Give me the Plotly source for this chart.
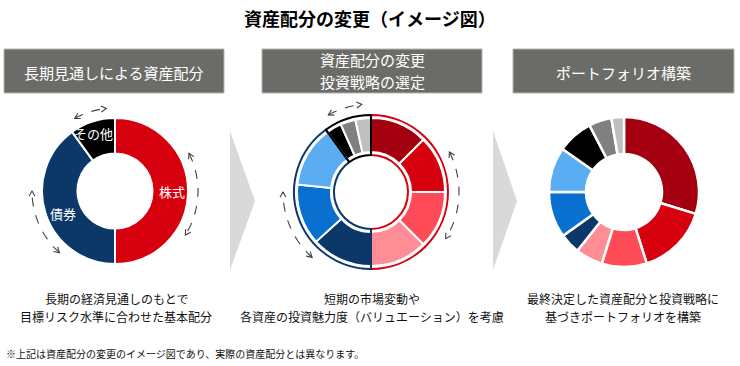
import math
import plotly.graph_objects as go

W, H = 740, 366
FONT = "Noto Sans CJK JP"

# ---------------- data ----------------
title_text = "資産配分の変更（イメージ図）"
header_texts = [["長期見通しによる資産配分"], ["資産配分の変更", "投資戦略の選定"], ["ポートフォリオ構築"]]
caption_texts = [
    ["長期の経済見通しのもとで", "目標リスク水準に合わせた基本配分"],
    ["短期の市場変動や", "各資産の投資魅力度（バリュエーション）を考慮"],
    ["最終決定した資産配分と投資戦略に", "基づきポートフォリオを構築"],
]
footnote = "※上記は資産配分の変更のイメージ図であり、実際の資産配分とは異なります。"

basic_labels = ["株式", "債券", "その他"]
basic_values = [50, 40, 10]
basic_colors = ["#d7000f", "#0b3868", "#000000"]

sub_labels = ["株式A", "株式B", "株式C", "株式D", "債券A", "債券B", "債券C", "その他A", "その他B", "その他C"]
strategy_values = [12.5, 12.5, 12.5, 12.5, 13.3, 13.3, 13.4, 3.3, 3.3, 3.4]
portfolio_values = [29.7, 15.4, 9.7, 5.9, 4.4, 9.9, 9.7, 7.7, 4.9, 2.7]
sub_colors = ["#a5000f", "#d7000f", "#ff4b57", "#ff8d96", "#0b3868",
              "#0a70d0", "#5aadf3", "#000000", "#808080", "#bfbfbf"]

# ---------------- helpers ----------------
def px(x):
    return x / W

def py(y):
    return 1 - y / H

def dom(cx, cy, r):
    return dict(x=[px(cx - r), px(cx + r)], y=[py(cy + r), py(cy - r)])

def polar(cx, cy, r, deg):
    t = math.radians(deg)
    return cx + r * math.sin(t), cy - r * math.cos(t)

fig = go.Figure()

# panel geometry
C1 = (115, 191); R1, r1 = 73, 37.5
C2 = (371, 192); R2, r2 = 74, 40
C3 = (624, 192); R3, r3 = 75, 38

# donut 1 (basic allocation)
fig.add_trace(go.Pie(
    labels=basic_labels, values=basic_values, sort=False, direction="clockwise", rotation=0,
    marker=dict(colors=basic_colors, line=dict(color="white", width=2)),
    hole=r1 / R1, domain=dom(*C1, R1), textinfo="none", hoverinfo="skip", showlegend=False))

# donut 2 (strategy) slices
fig.add_trace(go.Pie(
    labels=sub_labels, values=strategy_values, sort=False, direction="clockwise", rotation=0,
    marker=dict(colors=sub_colors, line=dict(color="white", width=2)),
    hole=r2 / R2, domain=dom(*C2, R2), textinfo="none", hoverinfo="skip", showlegend=False))
# donut 2 group outlines
Ro, ro = R2 + 3, r2 - 3
fig.add_trace(go.Pie(
    labels=basic_labels, values=basic_values, sort=False, direction="clockwise", rotation=0,
    marker=dict(colors=["rgba(0,0,0,0)"] * 3, line=dict(color=basic_colors, width=2)),
    hole=ro / Ro, domain=dom(*C2, Ro), textinfo="none", hoverinfo="skip", showlegend=False))

# donut 3 (portfolio)
fig.add_trace(go.Pie(
    labels=sub_labels, values=portfolio_values, sort=False, direction="clockwise", rotation=0,
    marker=dict(colors=sub_colors, line=dict(color="white", width=2.5)),
    hole=r3 / R3, domain=dom(*C3, R3), textinfo="none", hoverinfo="skip", showlegend=False))

shapes = []
annotations = []

# title
annotations.append(dict(x=px(370), y=py(18), xref="paper", yref="paper", text="<b>" + title_text + "</b>",
                        showarrow=False, font=dict(family=FONT, size=18, color="#000000"),
                        xanchor="center", yanchor="middle"))

# header boxes
boxes = [(4, 224), (262, 482), (513, 734)]
for (x0, x1), lines in zip(boxes, header_texts):
    shapes.append(dict(type="rect", xref="paper", yref="paper", x0=px(x0), x1=px(x1), y0=py(93), y1=py(49),
                       fillcolor="#6b6c67", line=dict(color="#b5b5b5", width=1), layer="below"))
    cx = (x0 + x1) / 2
    ys = [72] if len(lines) == 1 else [60, 81]
    for t, yy in zip(lines, ys):
        annotations.append(dict(x=px(cx), y=py(yy), xref="paper", yref="paper", text=t, showarrow=False,
                                font=dict(family=FONT, size=15, color="#ffffff"),
                                xanchor="center", yanchor="middle"))

# gray chevrons
for x0, x1 in [(230, 255), (493, 517)]:
    path = f"M {px(x0)} {py(131)} L {px(x1)} {py(201)} L {px(x0)} {py(270)} Z"
    shapes.append(dict(type="path", xref="paper", yref="paper", path=path,
                       fillcolor="#d9d9d9", line=dict(width=0), layer="below"))

# donut 1 labels at slice mid-angles
total = sum(basic_values)
cum = 0
label_r = [57, 55, 56]
for lab, v, lr in zip(basic_labels, basic_values, label_r):
    mid = (cum + v / 2) / total * 360
    cum += v
    x, y = polar(C1[0], C1[1], lr, mid)
    if lab == "その他":
        x, y = x - 4, y - 4
    if lab == "債券":
        y += 6
    annotations.append(dict(x=px(x), y=py(y), xref="paper", yref="paper", text=lab, showarrow=False,
                            font=dict(family=FONT, size=13, color="#ffffff"),
                            xanchor="center", yanchor="middle"))

# dashed double-headed arcs
def arc_arrow(cx, cy, r, a1, a2):
    n = 30
    pts = [polar(cx, cy, r, a1 + (a2 - a1) * i / n) for i in range(n + 1)]
    path = "M " + " L ".join(f"{px(x)} {py(y)}" for x, y in pts)
    shapes.append(dict(type="path", xref="paper", yref="paper", path=path,
                       line=dict(color="#404040", width=1.1, dash="dash")))
    for ang, sgn in [(a2, 1), (a1, -1)]:
        t = math.radians(ang)
        P = polar(cx, cy, r, ang)
        dx, dy = math.cos(t) * sgn, math.sin(t) * sgn
        heads = []
        for rot in (30, -30):
            rr = math.radians(rot)
            bx = -(dx * math.cos(rr) - dy * math.sin(rr))
            by = -(dx * math.sin(rr) + dy * math.cos(rr))
            heads.append((P[0] + 6 * bx, P[1] + 6 * by))
        hp = (f"M {px(heads[0][0])} {py(heads[0][1])} L {px(P[0])} {py(P[1])} "
              f"L {px(heads[1][0])} {py(heads[1][1])}")
        shapes.append(dict(type="path", xref="paper", yref="paper", path=hp,
                           line=dict(color="#404040", width=1.1)))

for (cx, cy), r in [(C1, 83), (C2, 88)]:
    arc_arrow(cx, cy, r, 63, 122)
    arc_arrow(cx, cy, r, 222, 270)
    arc_arrow(cx, cy, r, 331, 354)

# captions
for cx, lines in zip([116, 372, 623], caption_texts):
    for t, yy in zip(lines, [298, 316]):
        annotations.append(dict(x=px(cx), y=py(yy), xref="paper", yref="paper", text=t, showarrow=False,
                                font=dict(family=FONT, size=12, color="#111111"),
                                xanchor="center", yanchor="middle"))

# footnote
annotations.append(dict(x=px(4), y=py(353), xref="paper", yref="paper", text=footnote, showarrow=False,
                        font=dict(family=FONT, size=10, color="#111111"),
                        xanchor="left", yanchor="middle"))

fig.update_layout(width=W, height=H, margin=dict(l=0, r=0, t=0, b=0),
                  paper_bgcolor="white", plot_bgcolor="white",
                  shapes=shapes, annotations=annotations, showlegend=False)

fig.write_html("out.html")
